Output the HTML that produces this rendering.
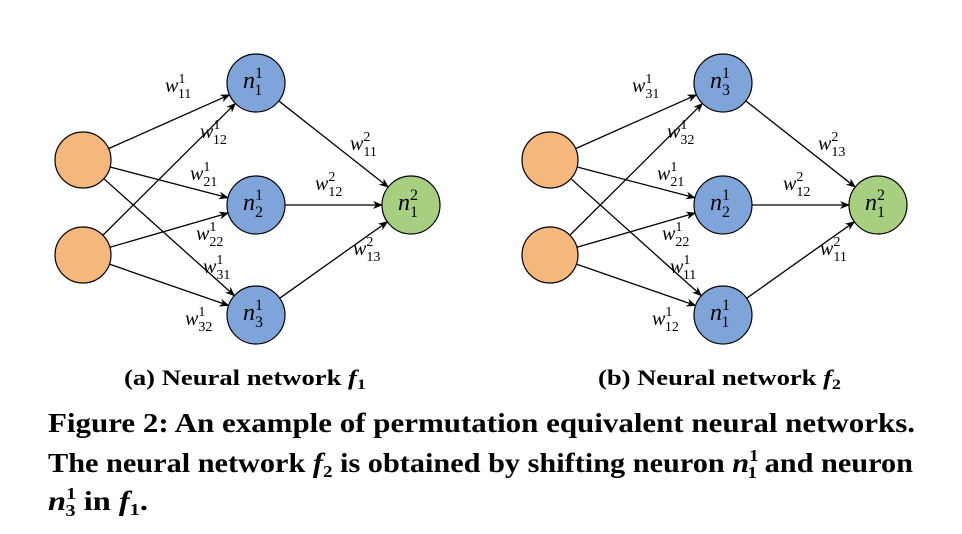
<!DOCTYPE html>
<html><head><meta charset="utf-8"><style>
html,body{margin:0;padding:0;background:#fff}
svg{display:block}
text{font-family:"Liberation Serif",serif}
</style></head><body>
<svg id="fig" width="962" height="534" viewBox="0 0 962 534">
<defs><marker id="ar" markerWidth="10" markerHeight="8" refX="9" refY="4" orient="auto" markerUnits="userSpaceOnUse"><path d="M0,0 L10,4 L0,8 L3,4 Z" fill="#000"/></marker></defs>
<g id="nets"></g>
<text x="124" y="385" font-size="22" font-weight="bold" textLength="242" lengthAdjust="spacingAndGlyphs">(a) Neural network <tspan font-style="italic">f</tspan><tspan font-size="15" dy="4">1</tspan></text>
<text x="598" y="385" font-size="22" font-weight="bold" textLength="243" lengthAdjust="spacingAndGlyphs">(b) Neural network <tspan font-style="italic">f</tspan><tspan font-size="15" dy="4">2</tspan></text>
<text x="48" y="432" font-size="27" font-weight="bold" textLength="867" lengthAdjust="spacingAndGlyphs">Figure 2: An example of permutation equivalent neural networks.</text>
<text x="48" y="472" font-size="27" font-weight="bold" textLength="865" lengthAdjust="spacingAndGlyphs">The neural network <tspan font-style="italic">f</tspan><tspan font-size="17" dy="5">2</tspan><tspan dy="-5"> is obtained by shifting neuron </tspan><tspan font-style="italic">n</tspan><tspan font-size="17" dy="-11">1</tspan><tspan font-size="17" dx="-9" dy="17">1</tspan><tspan dy="-6"> and neuron</tspan></text>
<text x="48" y="510" font-size="27" font-weight="bold" textLength="100" lengthAdjust="spacingAndGlyphs"><tspan font-style="italic">n</tspan><tspan font-size="17" dy="-11">1</tspan><tspan font-size="17" dx="-9" dy="17">3</tspan><tspan dy="-6"> in </tspan><tspan font-style="italic">f</tspan><tspan font-size="17" dy="5">1</tspan><tspan dy="-5">.</tspan></text>
</svg>
<script>
const NS='http://www.w3.org/2000/svg';
const g=document.getElementById('nets');
const offsets=[0,467];
const hiddenLabels=[['1','2','3'],['3','2','1']];
const inLabels=[[['11','165','92'],['12','200','138'],['21','190','180'],['22','196','240'],['31','203','273'],['32','185','325']],
 [['31','632','92'],['32','667','138'],['21','657','180'],['22','662','240'],['11','670','273'],['12','652','325']]];
const outLabels=[[['11','350','150'],['12','315','190'],['13','353','255']],[['13','818','150'],['12','783','190'],['11','820','255']]];
function el(t,a,p){const e=document.createElementNS(NS,t);for(const k in a)e.setAttribute(k,a[k]);(p||g).appendChild(e);return e;}
function wlabel(sup,sub,x,y,name){
 const t=el('text',{x:x,y:y,'font-size':20});
 
 
 t.innerHTML='<tspan font-style="italic">w</tspan><tspan font-size="14" dy="-9">'+sup+'</tspan><tspan font-size="14" dx="-7" dy="15">'+sub+'</tspan>';
}
const R=28;
offsets.forEach((o,k)=>{
 const ins=[[83+o,160],[83+o,255]], hid=[[256+o,83],[256+o,205],[256+o,315]], out=[411+o,205];
 ins.forEach(a=>hid.forEach(b=>{
  const dx=b[0]-a[0],dy=b[1]-a[1],L=Math.hypot(dx,dy);
  const l=el('line',{x1:a[0]+dx/L*R,y1:a[1]+dy/L*R,x2:b[0]-dx/L*(R+1),y2:b[1]-dy/L*(R+1),stroke:'#000','stroke-width':1.3,'marker-end':'url(#ar)'});
  
  
 }));
 hid.forEach(b=>{
  const dx=out[0]-b[0],dy=out[1]-b[1],L=Math.hypot(dx,dy);
  const l=el('line',{x1:b[0]+dx/L*R,y1:b[1]+dy/L*R,x2:out[0]-dx/L*(R+1),y2:out[1]-dy/L*(R+1),stroke:'#000','stroke-width':1.3,'marker-end':'url(#ar)'});
  
  
 });
 ins.forEach(a=>{const c=el('circle',{cx:a[0],cy:a[1],r:R,fill:'#f4b77c',stroke:'#000','stroke-width':1.2});
  
  });
 hid.forEach((b,i)=>{const c=el('circle',{cx:b[0],cy:b[1],r:R+1,fill:'#7fa4d9',stroke:'#000','stroke-width':1.2});
  
  
  const t=el('text',{x:b[0]-13,y:b[1]+5,'font-size':24});
  
  
  t.innerHTML='<tspan font-style="italic">n</tspan><tspan font-size="16" dy="-10">1</tspan><tspan font-size="16" dx="-8" dy="17">'+hiddenLabels[k][i]+'</tspan>';
 });
 const c=el('circle',{cx:out[0],cy:out[1],r:R+1,fill:'#a6cf7f',stroke:'#000','stroke-width':1.2});
 
 
 const t=el('text',{x:out[0]-13,y:out[1]+5,'font-size':24});
 
 
 t.innerHTML='<tspan font-style="italic">n</tspan><tspan font-size="16" dy="-10">2</tspan><tspan font-size="16" dx="-8" dy="17">1</tspan>';
 inLabels[k].forEach(w=>wlabel('1',w[0],+w[1],+w[2],'weight-label'));
 outLabels[k].forEach(w=>wlabel('2',w[0],+w[1],+w[2],'weight-label'));
});
</script>
</body></html>
